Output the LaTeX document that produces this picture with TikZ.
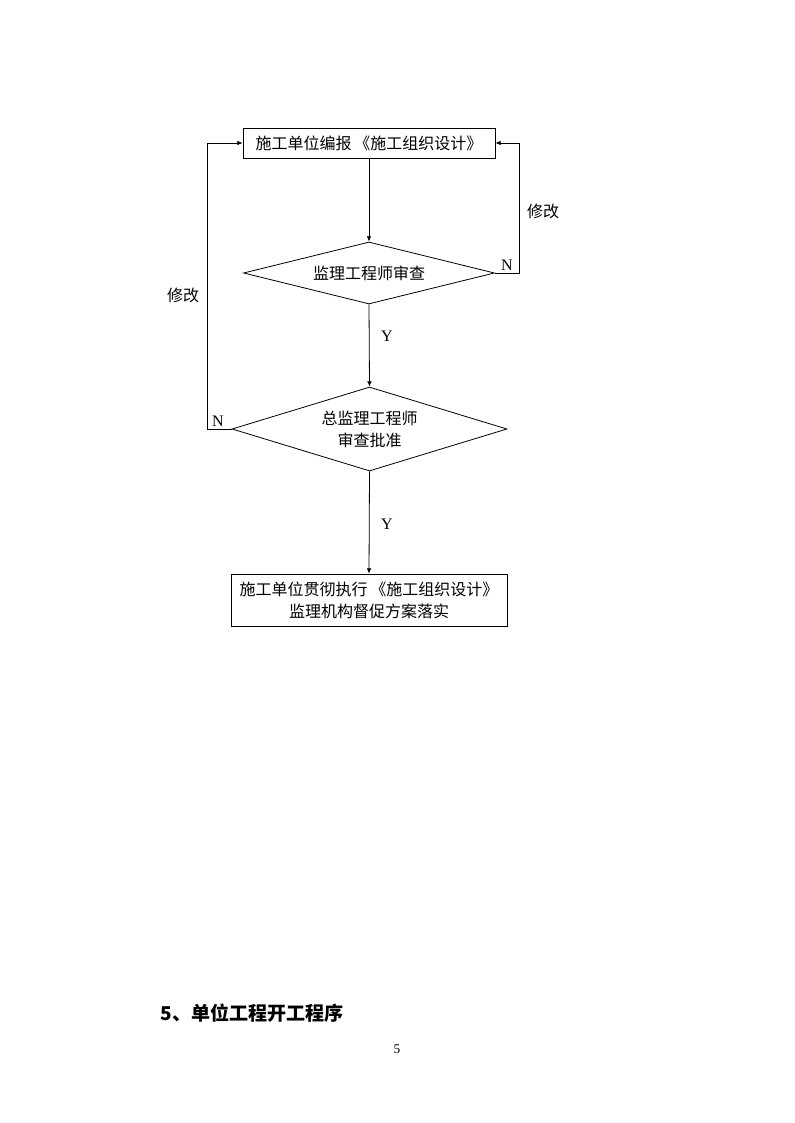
\documentclass[tikz,border=0pt]{standalone}
\usepackage{fontspec}
\setmainfont{Liberation Serif}
\newfontfamily\cjk{Noto Sans CJK SC}
\usetikzlibrary{shapes.geometric,arrows.meta}
\begin{document}
\begin{tikzpicture}[x=0.75pt,y=-0.75pt,
  line width=0.6pt,
  cjkfont/.style={font=\cjk\fontsize{12}{16.5}\selectfont},
  box/.style={draw,rectangle,inner sep=0pt,align=center,cjkfont},
  dia/.style={draw,diamond,inner sep=0pt,align=center,cjkfont},
  arr/.style={-{Latex[length=4pt,width=3.5pt]}},
  yn/.style={font=\fontsize{12}{14}\selectfont},
  lbl/.style={cjkfont}]
\useasboundingbox (0,0) rectangle (794,1123);
\node[box,minimum width=189pt,minimum height=22.5pt] (b1) at (369,143) {施工单位编报\,《施工组织设计》};
\node[dia,minimum width=188.25pt,minimum height=46.5pt,aspect=4] (d1) at (369,273) {监理工程师审查};
\node[dia,minimum width=206.25pt,minimum height=63pt,aspect=3.3] (d2) at (369.5,429) {总监理工程师\\审查批准};
\node[box,minimum width=207pt,minimum height=39pt] (b2) at (369,600) {施工单位贯彻执行\,《施工组织设计》\\监理机构督促方案落实};
\coordinate (rc) at (519,273);
\coordinate (lc) at (207,429);
\draw[arr] (b1.south) -- (d1.north);
\draw[arr] (d1.south) -- (d2.north);
\draw[arr] (d2.south) -- (b2.north);
\draw[arr] (d1.east) -- (rc) |- (b1.east);
\draw[arr] (d2.west) -- (lc) |- (b1.west);
\node[yn] (n1) at (507,265) {N};
\node[yn] (n2) at (218,421) {N};
\node[yn] (y1) at (387,336) {Y};
\node[yn] (y2) at (387,524) {Y};
\node[lbl] (m1) at (543,211) {修改};
\node[lbl] (m2) at (183,295) {修改};
\node[anchor=west,font=\cjk\bfseries\fontsize{14.3}{17}\selectfont] (h) at (156,1013) {5、单位工程开工程序};
\node[font=\fontsize{10}{12}\selectfont] (pg) at (397,1049) {5};
\end{tikzpicture}
\end{document}
